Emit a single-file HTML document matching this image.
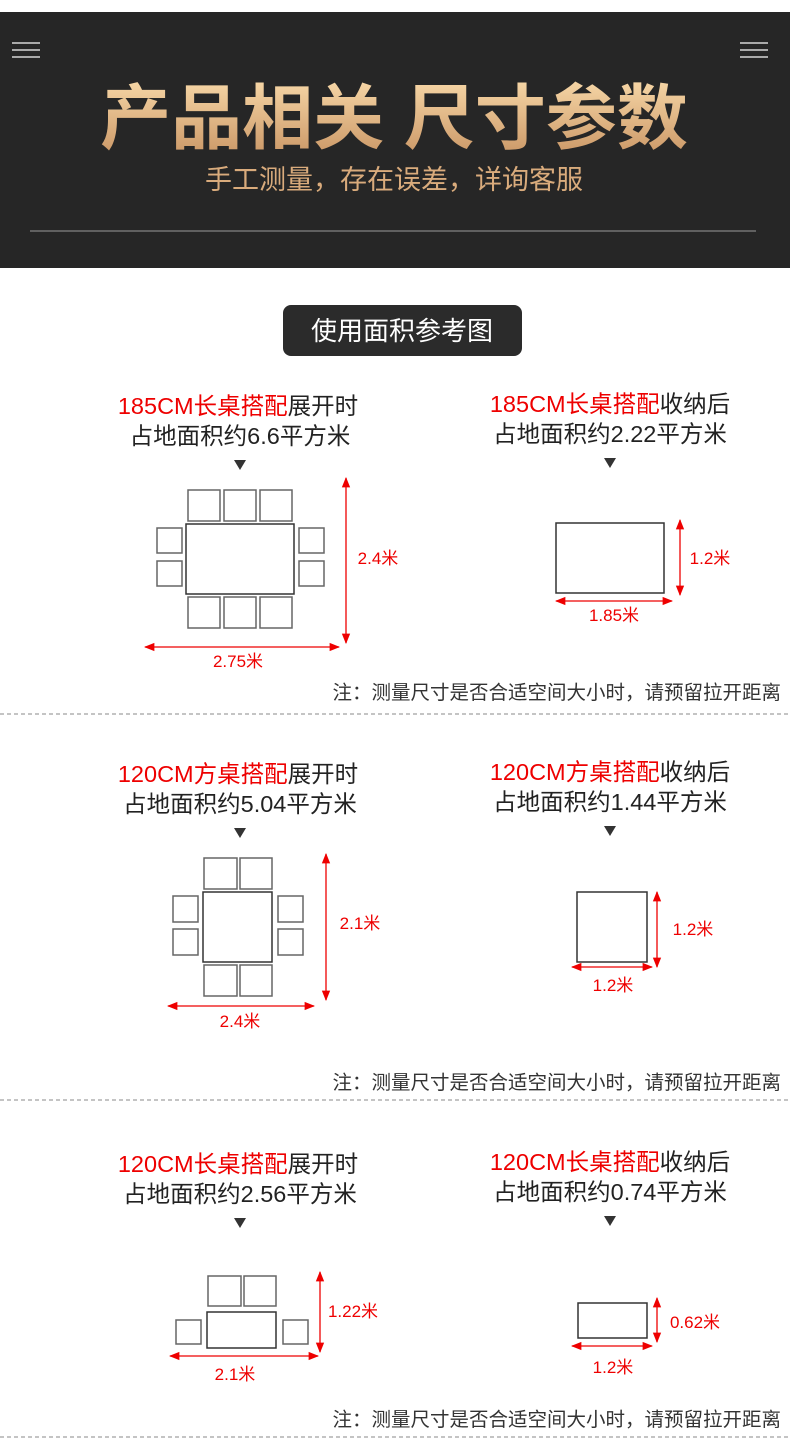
<!DOCTYPE html>
<html><head><meta charset="utf-8"><style>
html,body{margin:0;padding:0;background:#fff;}
svg{display:block;}
text{font-family:"Liberation Sans","Noto Sans CJK SC",sans-serif;}
</style></head><body>
<svg width="790" height="1453" viewBox="0 0 790 1453" xmlns="http://www.w3.org/2000/svg">
<defs>
<linearGradient id="g" x1="0" y1="0" x2="0" y2="1">
<stop offset="0" stop-color="#f6d6a6"/><stop offset="1" stop-color="#c99564"/>
</linearGradient>
<marker id="a" viewBox="0 0 10 10" refX="9" refY="5" markerWidth="8" markerHeight="8" orient="auto-start-reverse">
<path d="M0,1 L10,5 L0,9 z" fill="#e00"/></marker>
</defs>
<rect x="0" y="12" width="790" height="256" fill="#262626"/>
<g stroke="#aaa" stroke-width="2">
<line x1="12" y1="43" x2="40" y2="43"/><line x1="12" y1="50" x2="40" y2="50"/><line x1="12" y1="57" x2="40" y2="57"/>
<line x1="740" y1="43" x2="768" y2="43"/><line x1="740" y1="50" x2="768" y2="50"/><line x1="740" y1="57" x2="768" y2="57"/>
</g>
<text x="394" y="143" text-anchor="middle" font-size="71" font-weight="bold" fill="url(#g)">产品相关 尺寸参数</text>
<text x="394" y="189" text-anchor="middle" font-size="27" fill="#d9ab7c">手工测量，存在误差，详询客服</text>
<line x1="30" y1="231" x2="756" y2="231" stroke="#999" stroke-width="1"/>

<rect x="283" y="305" width="239" height="51" rx="8" fill="#2b2b2b"/>
<text x="402" y="340" text-anchor="middle" font-size="26" fill="#fff">使用面积参考图</text>

<g font-size="23.5" text-anchor="middle" fill="#222">
<text x="238" y="414"><tspan fill="#e00">185CM长桌搭配</tspan>展开时</text>
<text x="240" y="444">占地面积约6.6平方米</text>
<text x="610" y="412"><tspan fill="#e00">185CM长桌搭配</tspan>收纳后</text>
<text x="610" y="442">占地面积约2.22平方米</text>
<text x="238" y="782"><tspan fill="#e00">120CM方桌搭配</tspan>展开时</text>
<text x="240" y="812">占地面积约5.04平方米</text>
<text x="610" y="780"><tspan fill="#e00">120CM方桌搭配</tspan>收纳后</text>
<text x="610" y="810">占地面积约1.44平方米</text>
<text x="238" y="1172"><tspan fill="#e00">120CM长桌搭配</tspan>展开时</text>
<text x="240" y="1202">占地面积约2.56平方米</text>
<text x="610" y="1170"><tspan fill="#e00">120CM长桌搭配</tspan>收纳后</text>
<text x="610" y="1200">占地面积约0.74平方米</text>
</g>
<g fill="#333">
<path d="M234,460 h12 l-6,10 z"/><path d="M604,458 h12 l-6,10 z"/>
<path d="M234,828 h12 l-6,10 z"/><path d="M604,826 h12 l-6,10 z"/>
<path d="M234,1218 h12 l-6,10 z"/><path d="M604,1216 h12 l-6,10 z"/>
</g>

<g fill="none" stroke="#666" stroke-width="1.5">
<rect x="188" y="490" width="32" height="31"/><rect x="224" y="490" width="32" height="31"/><rect x="260" y="490" width="32" height="31"/>
<rect x="188" y="597" width="32" height="31"/><rect x="224" y="597" width="32" height="31"/><rect x="260" y="597" width="32" height="31"/>
<rect x="157" y="528" width="25" height="25"/><rect x="157" y="561" width="25" height="25"/>
<rect x="299" y="528" width="25" height="25"/><rect x="299" y="561" width="25" height="25"/>
<rect x="204" y="858" width="33" height="31"/><rect x="240" y="858" width="32" height="31"/>
<rect x="204" y="965" width="33" height="31"/><rect x="240" y="965" width="32" height="31"/>
<rect x="173" y="896" width="25" height="26"/><rect x="173" y="929" width="25" height="26"/>
<rect x="278" y="896" width="25" height="26"/><rect x="278" y="929" width="25" height="26"/>
<rect x="208" y="1276" width="33" height="30"/><rect x="244" y="1276" width="32" height="30"/>
<rect x="176" y="1320" width="25" height="24"/><rect x="283" y="1320" width="25" height="24"/>
</g>
<g fill="none" stroke="#333" stroke-width="1.5">
<rect x="186" y="524" width="108" height="70"/>
<rect x="556" y="523" width="108" height="70"/>
<rect x="203" y="892" width="69" height="70"/>
<rect x="577" y="892" width="70" height="70"/>
<rect x="207" y="1312" width="69" height="36"/>
<rect x="578" y="1303" width="69" height="35"/>
</g>

<g stroke="#e00" stroke-width="1.3" marker-start="url(#a)" marker-end="url(#a)">
<line x1="346" y1="478" x2="346" y2="643"/><line x1="145" y1="647" x2="339" y2="647"/>
<line x1="680" y1="520" x2="680" y2="595"/><line x1="556" y1="601" x2="672" y2="601"/>
<line x1="326" y1="854" x2="326" y2="1000"/><line x1="168" y1="1006" x2="314" y2="1006"/>
<line x1="657" y1="892" x2="657" y2="967"/><line x1="572" y1="967" x2="652" y2="967"/>
<line x1="320" y1="1272" x2="320" y2="1352"/><line x1="170" y1="1356" x2="318" y2="1356"/>
<line x1="657" y1="1298" x2="657" y2="1342"/><line x1="572" y1="1346" x2="652" y2="1346"/>
</g>
<g fill="#e00" font-size="17" text-anchor="middle">
<text x="378" y="564">2.4米</text><text x="238" y="667">2.75米</text>
<text x="710" y="564">1.2米</text><text x="614" y="621">1.85米</text>
<text x="360" y="929">2.1米</text><text x="240" y="1027">2.4米</text>
<text x="693" y="935">1.2米</text><text x="613" y="991">1.2米</text>
<text x="353" y="1317">1.22米</text><text x="235" y="1380">2.1米</text>
<text x="695" y="1328">0.62米</text><text x="613" y="1373">1.2米</text>
</g>

<g font-size="19.5" fill="#333" text-anchor="end">
<text x="781" y="699">注：测量尺寸是否合适空间大小时，请预留拉开距离</text>
<text x="781" y="1089">注：测量尺寸是否合适空间大小时，请预留拉开距离</text>
<text x="781" y="1426">注：测量尺寸是否合适空间大小时，请预留拉开距离</text>
</g>
<g stroke="#888" stroke-width="1" stroke-dasharray="4,3">
<line x1="0" y1="714" x2="790" y2="714"/><line x1="0" y1="1100" x2="790" y2="1100"/><line x1="0" y1="1437" x2="790" y2="1437"/>
</g>
</svg>
</body></html>
